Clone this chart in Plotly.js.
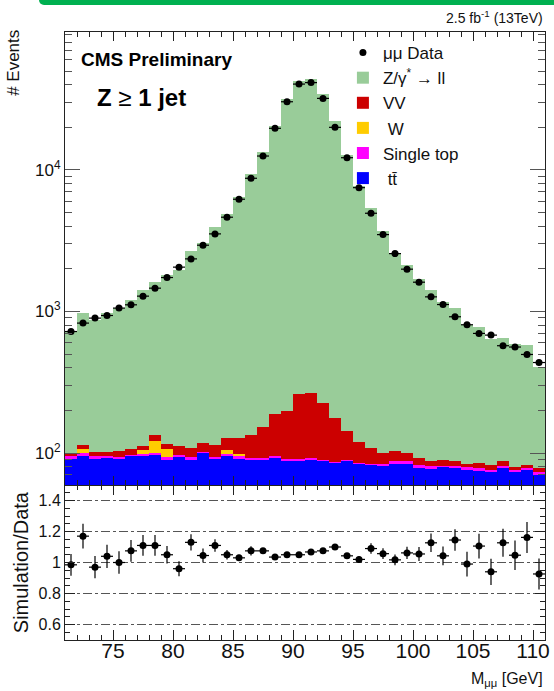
<!DOCTYPE html>
<html>
<head>
<meta charset="utf-8">
<script src="https://cdn.plot.ly/plotly-3.0.1.min.js"></script>
<style>
  html, body { margin: 0; padding: 0; background: #fff; }
  #wrap { position: relative; width: 554px; height: 691px; }
  #band { position: absolute; left: 39px; top: 0; width: 515px; height: 5px; background: #00b050; border-bottom-left-radius: 5px; z-index: 5; }
  #chart { position: absolute; left: 0; top: 0; width: 554px; height: 691px; }
</style>
</head>
<body>
<div id="wrap"><div id="band"></div><div id="chart"></div></div>
<script>
// ---- Data ----
const binCenters = [71.5,72.5,73.5,74.5,75.5,76.5,77.5,78.5,79.5,80.5,
  81.5,82.5,83.5,84.5,85.5,86.5,87.5,88.5,89.5,90.5,
  91.5,92.5,93.5,94.5,95.5,96.5,97.5,98.5,99.5,100.5,
  101.5,102.5,103.5,104.5,105.5,106.5,107.5,108.5,109.5,110.5];

const dataEvents = [722,828,898,937,1057,1115,1284,1462,1738,2058,
  2354,2941,3535,4637,6213,8738,12550,19700,30350,40450,
  41430,32060,20010,12210,7500,4946,3494,2565,1991,1611,
  1269,1120,918,806,700,681,573,561,497,436];

const zll = [611,855,770,873,954,1092,1312,1490,1708,1863,
  2551,2955,3809,4742,6272,9259,13338,20201,31669,42211,
  43980,34239,21834,12591,7530,5282,3593,2506,2014,1607,
  1342,1078,963,714,689,558,558,507,496,326];

const vv = [4.1,6.6,6.2,5.1,9.6,9.4,8.3,10.7,9.7,15.4,
  15.2,15.8,20.8,21.3,29,41.9,61.4,93,108,171,
  174,136,90,55,34.6,24.9,15.9,15.6,12.2,10.4,
  6.9,8.3,7.4,4.4,7.1,6,6.9,4.2,3.9,4.9];

const wjets = [0,7.4,0,0,0,0,6.5,21.8,13,0,
  0,0,0,7.7,3.2,0,0,0,0,0,
  0,0,0,0,0,0,0,0,0,0,
  0,0,0,0,0,0,0,0,0,0];

const singleTop = [4.6,4.1,3.5,3.1,3.0,2.6,3.2,3.1,4.0,3.6,
  4.0,2.2,3.0,3.2,4.0,3.2,1.8,3.1,3.9,2.9,
  3.0,2.4,2.1,1.5,2.1,1.3,2.7,3.6,3.6,3.5,
  4.3,2.2,3.0,3.8,3.3,3.3,3.5,2.4,3.0,2.7];

const ttbar = [91.3,95.9,91.3,92.8,90.8,94.8,94.8,97.4,89.8,93.8,
  89.8,100,90.8,94.8,90.8,88.9,89.8,92.8,87.4,88.4,
  89.8,87.4,84.7,87.4,83.3,82.4,81.0,84.2,84.2,78.9,
  77.2,79.3,78.0,75.5,74.7,73.1,78.0,73.1,75.5,70.4];

const ratio = [0.985,1.17,0.97,1.04,1.0,1.075,1.11,1.11,1.05,0.96,
  1.13,1.045,1.11,1.05,1.03,1.075,1.075,1.035,1.05,1.05,
  1.068,1.075,1.10,1.043,1.02,1.09,1.057,1.017,1.062,1.055,
  1.127,1.043,1.145,0.99,1.106,0.94,1.127,1.047,1.162,0.926];

const ratioErr = [0.07,0.08,0.072,0.075,0.073,0.07,0.067,0.067,0.056,0.048,
  0.053,0.045,0.04,0.03,0.02,0.03,0.015,0.012,0.01,0.008,
  0.008,0.008,0.01,0.015,0.02,0.034,0.035,0.035,0.04,0.045,
  0.06,0.06,0.07,0.08,0.08,0.085,0.09,0.095,0.1,0.1];

const logTickVals = [100, 1000, 10000];
const logTickText = ['10<sup>2</sup>', '10<sup>3</sup>', '10<sup>4</sup>'];

// ---- Styling ----
const FONT = 'Liberation Sans, Arial, sans-serif';
const TXT = '#111';
const AX = '#222';

function bar(name, y, color, rank) {
  return {
    type: 'bar', name: name, x: binCenters, y: y, width: 1,
    marker: { color: color, line: { width: 0 } },
    xaxis: 'x2', yaxis: 'y', legendrank: rank, hoverinfo: 'skip'
  };
}

const traces = [
  bar('\u00a0tt\u0304', ttbar, '#0000ff', 6),
  bar('Single top', singleTop, '#ff00ff', 5),
  bar('\u00a0W', wjets, '#ffcc00', 4),
  bar('VV', vv, '#cc0000', 3),
  bar('Z/γ<sup>*</sup> → ll', zll, '#99cc99', 2),
  {
    type: 'scatter', mode: 'markers', name: 'μμ Data',
    x: binCenters, y: dataEvents, xaxis: 'x2', yaxis: 'y', legendrank: 1,
    marker: { color: '#000', size: 7 },
    error_x: { type: 'constant', value: 0.5, width: 0, color: '#000', thickness: 1.2 },
    error_y: { type: 'sqrt', width: 0, color: '#000', thickness: 1.2 }
  },
  {
    type: 'scatter', mode: 'markers', showlegend: false,
    x: binCenters, y: ratio, xaxis: 'x', yaxis: 'y2',
    marker: { color: '#000', size: 7 },
    error_x: { type: 'constant', value: 0.5, width: 0, color: '#000', thickness: 1.2 },
    error_y: { type: 'data', array: ratioErr, width: 0, color: '#000', thickness: 1.2 }
  }
];

const splitFrac = 155 / 608;

const layout = {
  width: 554, height: 691,
  margin: { l: 65, r: 8.5, t: 32, b: 51 },
  paper_bgcolor: '#fff', plot_bgcolor: '#fff',
  font: { family: FONT, color: TXT },
  barmode: 'stack', bargap: 0,
  showlegend: true,
  legend: {
    x: 0.579, y: 0.995, xanchor: 'left', yanchor: 'top',
    bgcolor: 'rgba(0,0,0,0)', borderwidth: 0,
    font: { size: 17, color: TXT, family: FONT },
    traceorder: 'normal', itemclick: false
  },
  xaxis: {
    domain: [0, 1], anchor: 'y2', range: [71, 111],
    tickmode: 'linear', tick0: 75, dtick: 5,
    ticks: 'inside', ticklen: 10, tickwidth: 1, tickcolor: AX,
    minor: { ticks: 'inside', ticklen: 5, tickwidth: 1, tickcolor: AX, dtick: 1, tick0: 71, showgrid: false },
    showline: true, linecolor: AX, linewidth: 1, mirror: 'allticks',
    showgrid: false, zeroline: false,
    ticklabelstandoff: -8,
    tickfont: { size: 21, color: TXT }
  },
  xaxis2: {
    domain: [0, 1], anchor: 'y', matches: 'x', range: [71, 111],
    tickmode: 'linear', tick0: 75, dtick: 5,
    ticks: 'inside', ticklen: 9, tickwidth: 1, tickcolor: AX,
    minor: { ticks: 'inside', ticklen: 5, tickwidth: 1, tickcolor: AX, dtick: 1, tick0: 71, showgrid: false },
    showline: true, linecolor: AX, linewidth: 1, mirror: 'allticks',
    showgrid: false, zeroline: false, showticklabels: false
  },
  yaxis: {
    domain: [splitFrac, 1], anchor: 'x2', type: 'log', range: [1.774, 4.975],
    tickmode: 'array', tickvals: logTickVals, ticktext: logTickText,
    ticks: 'inside', ticklen: 15, tickwidth: 1, tickcolor: '#555',
    minor: { ticks: 'inside', ticklen: 7, tickwidth: 1, tickcolor: '#555', dtick: 'D1', showgrid: false },
    showline: true, linecolor: AX, linewidth: 1, mirror: 'allticks',
    showgrid: false, zeroline: false,
    tickfont: { size: 17, color: TXT }
  },
  yaxis2: {
    domain: [0, splitFrac], anchor: 'x', range: [0.5, 1.5],
    tickmode: 'linear', tick0: 0.6, dtick: 0.2,
    ticks: 'inside', ticklen: 10, tickwidth: 1, tickcolor: AX,
    minor: { ticks: 'inside', ticklen: 5, tickwidth: 1, tickcolor: AX, dtick: 0.05, tick0: 0.5, showgrid: false },
    showline: true, linecolor: AX, linewidth: 1, mirror: 'allticks',
    showgrid: true, gridcolor: '#555', gridwidth: 1, griddash: 'dashdot',
    zeroline: false,
    tickfont: { size: 16, color: TXT }
  },
  annotations: [
    { text: '# Events', xref: 'paper', yref: 'paper', x: -0.106, y: 1.007,
      xanchor: 'center', yanchor: 'top', textangle: -90, showarrow: false,
      font: { size: 17, color: TXT } },
    { text: 'Simulation/Data', xref: 'paper', yref: 'paper', x: -0.0916, y: 0.128,
      xanchor: 'center', yanchor: 'middle', textangle: -90, showarrow: false,
      font: { size: 20, color: TXT } },
    { text: '<b>CMS Preliminary</b>', xref: 'paper', yref: 'paper', x: 0.029, y: 0.955,
      xanchor: 'left', yanchor: 'middle', showarrow: false,
      font: { size: 19, color: '#000' } },
    { text: '<b>Z</b> ≥ <b>1 jet</b>', xref: 'paper', yref: 'paper', x: 0.062, y: 0.893,
      xanchor: 'left', yanchor: 'middle', showarrow: false,
      font: { size: 24, color: '#000' } },
    { text: '2.5 fb<sup>-1</sup> (13TeV)', xref: 'paper', yref: 'paper', x: 1.0, y: 1.0247,
      xanchor: 'right', yanchor: 'middle', showarrow: false,
      font: { size: 14, color: TXT } },
    { text: 'M<sub>μμ</sub> [GeV]', xref: 'paper', yref: 'paper', x: 1.001, y: -0.0839,
      xanchor: 'right', yanchor: 'bottom', showarrow: false,
      font: { size: 16, color: TXT } }
  ]
};

Plotly.newPlot('chart', traces, layout, { staticPlot: true, displayModeBar: false });
</script>
</body>
</html>
